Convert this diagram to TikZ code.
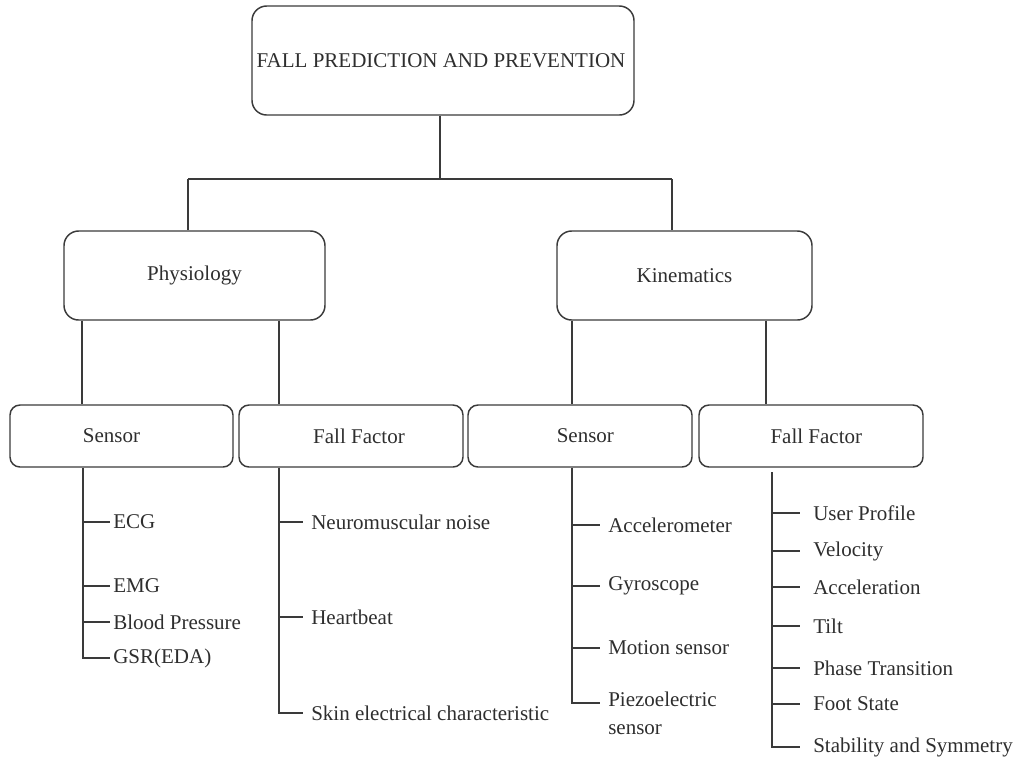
\documentclass[tikz,border=0pt]{standalone}
\usepackage{fontspec}
\setmainfont{Liberation Serif}
\definecolor{ink}{HTML}{2E2E2E}
\definecolor{linec}{HTML}{3A3A3A}
\begin{document}
\begin{tikzpicture}[x=0.75pt,y=-0.75pt,
  every node/.style={text=ink,font=\fontsize{15.75}{20}\selectfont},
  box/.style={draw=linec,line width=1.1pt,align=center,inner sep=0pt},
  topbox/.style={box,rounded corners=11pt,minimum width=286.5pt,minimum height=81.75pt},
  midbox/.style={box,rounded corners=11pt,minimum height=66.75pt},
  lowbox/.style={box,rounded corners=7.5pt,minimum width=168pt,minimum height=46.5pt},
  leaf/.style={anchor=west,inner sep=0pt,align=left},
  conn/.style={draw=linec,line width=1.1pt}]
\useasboundingbox (0,0) rectangle (1015,758);

% boxes
\node[topbox] (top) at (443,60.5) {FALL PREDICTION AND PREVENTION\hspace*{3pt}};
\node[midbox,minimum width=195.75pt] (phys) at (194.5,275.5) {Physiology};
\node[midbox,minimum width=191.25pt] (kin) at (684.5,275.5) {Kinematics};
\node[lowbox,minimum width=167.25pt] (s1) at (121.5,436) {\hspace*{-15pt}Sensor};
\node[lowbox] (f1) at (351,436) {Fall Factor\hspace*{-12pt}};
\node[lowbox] (s2) at (580,436) {Sensor\hspace*{-8pt}};
\node[lowbox] (f2) at (811,436) {Fall Factor\hspace*{-8pt}};

% level 1 -> 2
\coordinate (jm) at (440,179);
\coordinate (jl) at (188,179);
\coordinate (jr) at (672,179);
\draw[conn] (jm |- top.south) -- (jm);
\draw[conn] (jl) -- (jr);
\draw[conn] (jl) -- (jl |- phys.north);
\draw[conn] (jr) -- (jr |- kin.north);

% level 2 -> 3
\coordinate (c1) at (82,0);
\coordinate (c2) at (279,0);
\coordinate (c3) at (572,0);
\coordinate (c4) at (766,0);
\draw[conn] (c1 |- phys.south) -- (c1 |- s1.north);
\draw[conn] (c2 |- phys.south) -- (c2 |- f1.north);
\draw[conn] (c3 |- kin.south) -- (c3 |- s2.north);
\draw[conn] (c4 |- kin.south) -- (c4 |- f2.north);

% leaves: physiology sensor
\node[leaf] (ecg) at (113,522) {ECG};
\node[leaf] (emg) at (113,586) {EMG};
\node[leaf] (bp) at (113,622) {Blood Pressure};
\node[leaf] (gsr) at (113,658) {GSR(EDA)};
\coordinate (k1) at (83,0);
\draw[conn] (k1 |- s1.south) |- ([xshift=-2.25pt]gsr.west);
\foreach \n in {ecg,emg,bp} \draw[conn] (k1 |- \n.west) -- ([xshift=-2.25pt]\n.west);

% leaves: physiology fall factor
\node[leaf] (nmn) at (311,522) {Neuromuscular noise};
\node[leaf] (hb) at (311,617) {Heartbeat};
\node[leaf] (skin) at (311,713) {Skin electrical characteristic};
\coordinate (k2) at (279,0);
\draw[conn] (k2 |- f1.south) |- ([xshift=-6pt]skin.west);
\foreach \n in {nmn,hb} \draw[conn] (k2 |- \n.west) -- ([xshift=-6pt]\n.west);

% leaves: kinematics sensor
\node[leaf] (acc) at (608,525) {Accelerometer};
\node[leaf] (gyr) at (608,586) {Gyroscope};
\node[leaf] (mot) at (608,648) {Motion sensor};
\node[leaf,anchor=north west,font=\fontsize{15.75}{20.5}\selectfont] (pie) at (608,692) {Piezoelectric\\sensor};
\coordinate (k3) at (572,0);
\coordinate (pt) at (600,703);
\draw[conn] (k3 |- s2.south) |- (pt);
\foreach \n in {acc,gyr,mot} \draw[conn] (k3 |- \n.west) -- ([xshift=-6pt]\n.west);

% leaves: kinematics fall factor
\node[leaf] (up) at (813,513) {User Profile};
\node[leaf] (vel) at (813,551) {Velocity};
\node[leaf] (acl) at (813,587) {Acceleration};
\node[leaf] (tilt) at (813,626) {Tilt};
\node[leaf] (pha) at (813,668) {Phase Transition};
\node[leaf] (foot) at (813,704) {Foot State};
\node[leaf] (stab) at (813,747) {Stability and Symmetry};
\coordinate (k4) at (772,472);
\draw[conn] (k4) |- ([xshift=-9.75pt]stab.west);
\foreach \n in {up,vel,acl,tilt,pha,foot} \draw[conn] (k4 |- \n.west) -- ([xshift=-9.75pt]\n.west);
\end{tikzpicture}
\end{document}
